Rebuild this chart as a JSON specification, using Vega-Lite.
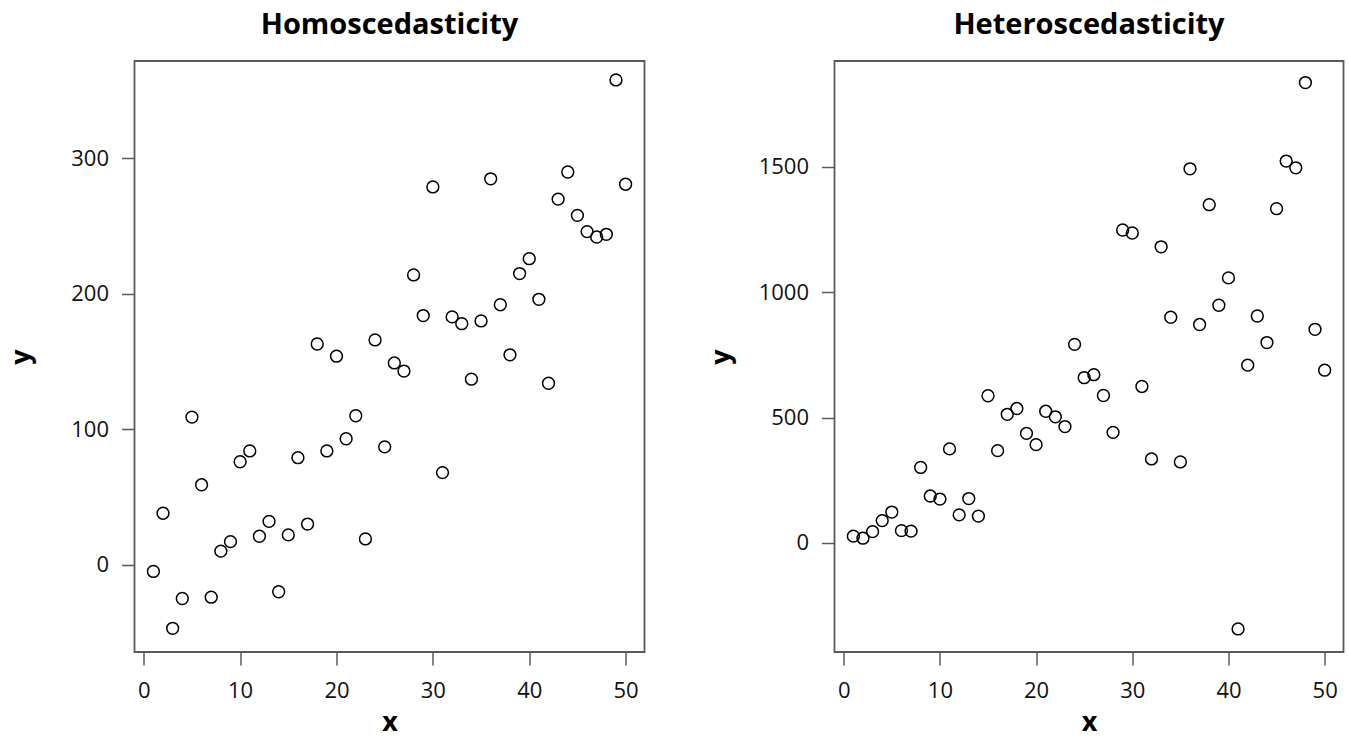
{
  "$schema": "https://vega.github.io/schema/vega-lite/v6.json",
  "padding": {"left": 6.5, "top": 10, "right": 0, "bottom": 5},
  "background": "white",
  "datasets": {
    "homo": [
      {"x":1,"y":-5},{"x":2,"y":38},{"x":3,"y":-47},{"x":4,"y":-25},{"x":5,"y":109},
      {"x":6,"y":59},{"x":7,"y":-24},{"x":8,"y":10},{"x":9,"y":17},{"x":10,"y":76},
      {"x":11,"y":84},{"x":12,"y":21},{"x":13,"y":32},{"x":14,"y":-20},{"x":15,"y":22},
      {"x":16,"y":79},{"x":17,"y":30},{"x":18,"y":163},{"x":19,"y":84},{"x":20,"y":154},
      {"x":21,"y":93},{"x":22,"y":110},{"x":23,"y":19},{"x":24,"y":166},{"x":25,"y":87},
      {"x":26,"y":149},{"x":27,"y":143},{"x":28,"y":214},{"x":29,"y":184},{"x":30,"y":279},
      {"x":31,"y":68},{"x":32,"y":183},{"x":33,"y":178},{"x":34,"y":137},{"x":35,"y":180},
      {"x":36,"y":285},{"x":37,"y":192},{"x":38,"y":155},{"x":39,"y":215},{"x":40,"y":226},
      {"x":41,"y":196},{"x":42,"y":134},{"x":43,"y":270},{"x":44,"y":290},{"x":45,"y":258},
      {"x":46,"y":246},{"x":47,"y":242},{"x":48,"y":244},{"x":49,"y":358},{"x":50,"y":281}
    ],
    "hetero": [
      {"x":1,"y":27},{"x":2,"y":19},{"x":3,"y":45},{"x":4,"y":89},{"x":5,"y":123},
      {"x":6,"y":49},{"x":7,"y":47},{"x":8,"y":301},{"x":9,"y":187},{"x":10,"y":175},
      {"x":11,"y":375},{"x":12,"y":112},{"x":13,"y":177},{"x":14,"y":107},{"x":15,"y":587},
      {"x":16,"y":368},{"x":17,"y":513},{"x":18,"y":536},{"x":19,"y":437},{"x":20,"y":392},
      {"x":21,"y":525},{"x":22,"y":503},{"x":23,"y":464},{"x":24,"y":792},{"x":25,"y":659},
      {"x":26,"y":671},{"x":27,"y":588},{"x":28,"y":441},{"x":29,"y":1248},{"x":30,"y":1236},
      {"x":31,"y":624},{"x":32,"y":335},{"x":33,"y":1181},{"x":34,"y":900},{"x":35,"y":323},
      {"x":36,"y":1492},{"x":37,"y":871},{"x":38,"y":1349},{"x":39,"y":948},{"x":40,"y":1057},
      {"x":41,"y":-343},{"x":42,"y":709},{"x":43,"y":905},{"x":44,"y":799},{"x":45,"y":1333},
      {"x":46,"y":1523},{"x":47,"y":1496},{"x":48,"y":1836},{"x":49,"y":852},{"x":50,"y":689}
    ]
  },
  "spacing": 190,
  "bounds": "flush",
  "config": {
    "font": "Open Sans",
    "view": {"stroke": "#5a5a5a", "strokeWidth": 1.8},
    "title": {"font": "Open Sans", "fontSize": 29, "fontWeight": "bold", "color": "#000", "anchor": "middle", "frame": "group", "baseline": "alphabetic", "offset": 21},
    "axis": {
      "domain": false, "grid": false,
      "tickColor": "#5a5a5a", "tickWidth": 1.5, "tickSize": 13,
      "labelFont": "Open Sans", "labelFontSize": 22, "labelColor": "#111", "labelPadding": 13,
      "titleFont": "Open Sans", "titleFontSize": 27, "titleFontWeight": "bold", "titleColor": "#000"
    },
    "axisX": {"titleY": 84, "titleBaseline": "bottom", "labelFlush": false, "labelPadding": 15},
    "axisY": {"titleX": -113, "titleY": 295.5, "titleBaseline": "middle", "titleAlign": "center", "labelAngle": 0, "labelFlush": false, "format": "d"}
  },
  "hconcat": [
    {
      "title": "Homoscedasticity",
      "width": 510, "height": 591,
      "data": {"name": "homo"},
      "mark": {"type": "point", "shape": "circle", "filled": false, "stroke": "#000", "strokeWidth": 1.5, "size": 140, "opacity": 1},
      "encoding": {
        "x": {"field": "x", "type": "quantitative", "title": "x", "scale": {"domain": [-0.96, 51.96], "nice": false, "zero": false}, "axis": {"values": [0,10,20,30,40,50]}},
        "y": {"field": "y", "type": "quantitative", "title": "y", "scale": {"domain": [-64.5, 372], "nice": false, "zero": false}, "axis": {"values": [0,100,200,300]}}
      }
    },
    {
      "title": "Heteroscedasticity",
      "width": 509, "height": 591,
      "data": {"name": "hetero"},
      "mark": {"type": "point", "shape": "circle", "filled": false, "stroke": "#000", "strokeWidth": 1.5, "size": 140, "opacity": 1},
      "encoding": {
        "x": {"field": "x", "type": "quantitative", "title": "x", "scale": {"domain": [-0.96, 51.96], "nice": false, "zero": false}, "axis": {"values": [0,10,20,30,40,50]}},
        "y": {"field": "y", "type": "quantitative", "title": "y", "scale": {"domain": [-435, 1922], "nice": false, "zero": false}, "axis": {"values": [0,500,1000,1500]}}
      }
    }
  ]
}
